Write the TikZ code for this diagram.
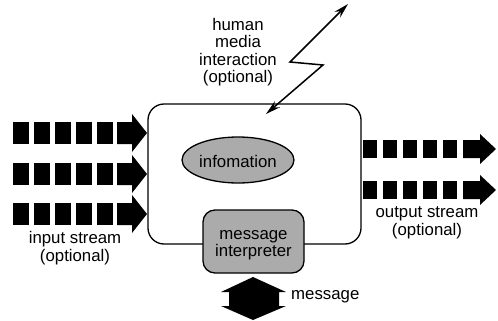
\documentclass[tikz,border=0pt]{standalone}
\usepackage{fontspec}
\setmainfont{Liberation Sans}
\usetikzlibrary{shapes.geometric,arrows.meta}
\begin{document}
\begin{tikzpicture}[x=1pt,y=-1pt,
  lbl/.style={font=\fontsize{16.8}{17.5}\selectfont, align=center, inner sep=0pt},
  stip/.style={fill=black!33, draw=black, line width=1.3pt},
  boxline/.style={draw=black, line width=1.3pt},
  bolt/.style={line width=1.5pt, {Stealth[length=15pt,width=8pt]}-{Stealth[length=15pt,width=8pt]}}]
\useasboundingbox (0,0) rectangle (498,321);

% main box
\node[boxline, rounded corners=16pt, minimum width=213pt, minimum height=140pt, inner sep=0pt] (main) at (254.5,174) {};

% information ellipse
\node[ellipse, stip, minimum width=112pt, minimum height=46pt, inner sep=0pt] (info) at (238,160) {};
\node[lbl] (infotext) at (238,161) {infomation};

% message interpreter
\node[stip, rounded corners=12pt, minimum width=101pt, minimum height=63pt, inner sep=0pt] (interp) at (253.5,241.5) {};
\node[lbl] (interptext) at (253.5,245) {message\\interpreter};

% input streams
\foreach \yy in {133,174,214} {
  \foreach \xx in {13,34,55,76,97} {
    \fill (\xx,\yy-11) rectangle ++(16,22);
  }
  \fill (117,\yy-11) -- (132,\yy-11) -- (132,\yy-19) -- (147,\yy) -- (132,\yy+19) -- (132,\yy+11) -- (117,\yy+11) -- cycle;
}

% output streams
\foreach \yy in {149,190} {
  \foreach \xx in {363,383,403,423,443} {
    \fill (\xx,\yy-9) rectangle ++(14,18);
  }
  \fill (463,\yy-9) -- (480,\yy-9) -- (480,\yy-15) -- (496,\yy) -- (480,\yy+15) -- (480,\yy+9) -- (463,\yy+9) -- cycle;
}

% message double arrow
\coordinate (mtop) at (253,277);
\coordinate (mbot) at (253,320);
\fill (mtop) -- (286,292) -- (279,292) -- (279,306) -- (286,306) -- (mbot) -- (221,306) -- (229,306) -- (229,292) -- (221,292) -- cycle;

% lightning bolt
\coordinate (btop) at (348,4);
\coordinate (bk1) at (290,62);
\coordinate (bk2) at (323,65);
\coordinate (bend) at (266,114);
\draw[bolt] (btop) -- (bk1) -- (bk2) -- (bend);

% labels
\node[lbl] (hmi) at (238,52) {human\\media\\interaction\\(optional)};
\node[lbl] (instream) at (75,248) {input stream\\(optional)};
\node[lbl] (outstream) at (427,223) {output stream\\(optional)};
\node[lbl, anchor=west] (msg) at (291,297) {message};
\end{tikzpicture}
\end{document}
